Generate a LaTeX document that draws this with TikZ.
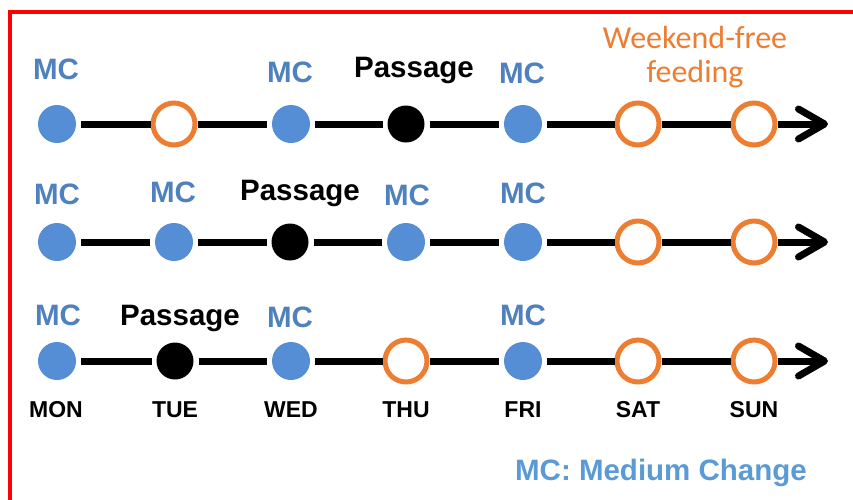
\documentclass[tikz,border=0pt]{standalone}
\usepackage{fontspec}
\setmainfont{Liberation Sans}
\newfontfamily\carlitofont{Carlito}
\usetikzlibrary{arrows.meta}
\definecolor{mcblue}{HTML}{4F81BD}
\definecolor{dotblue}{HTML}{558ED5}
\definecolor{legblue}{HTML}{5B9BD5}
\definecolor{wkorange}{HTML}{ED7D31}
\definecolor{frame}{HTML}{FF0000}
\begin{document}
\begin{tikzpicture}[x=1pt,y=-1pt,
  bluedot/.style={circle,fill=dotblue,minimum size=38pt,inner sep=0pt,outer sep=5pt},
  blackdot/.style={circle,fill=black,minimum size=37pt,inner sep=0pt,outer sep=5pt},
  freedot/.style={circle,draw=wkorange,line width=5pt,fill=white,minimum size=42pt,inner sep=0pt,outer sep=2.5pt},
  tline/.style={line width=7pt},
  tarrow/.style={line width=7pt,-{Straight Barb[length=26pt,width=30pt,round]}},
  mc/.style={text=mcblue,font=\bfseries\fontsize{29.5}{31}\selectfont,anchor=base,inner sep=0pt},
  pass/.style={text=black,font=\bfseries\fontsize{29.5}{31}\selectfont,anchor=base,inner sep=0pt},
  day/.style={text=black,font=\bfseries\fontsize{23}{25}\selectfont,anchor=base,inner sep=0pt},
  wk/.style={text=wkorange,font=\carlitofont\fontsize{32}{34}\selectfont,anchor=base,inner sep=0pt},
  leg/.style={text=legblue,font=\bfseries\fontsize{29.5}{31}\selectfont,anchor=base,inner sep=0pt}
]
\useasboundingbox (0,0) rectangle (853,499);
\clip (0,0) rectangle (853,499);
\fill[white] (0,0) rectangle (853,499);
\draw[frame,line width=4pt] (9.5,11.5) rectangle (900,560);

% Row 1
\node[bluedot]  (a1) at (57,124) {};
\node[freedot]  (a2) at (174,124) {};
\node[bluedot]  (a3) at (291,124) {};
\node[blackdot] (a4) at (406,124) {};
\node[bluedot]  (a5) at (523,124) {};
\node[freedot]  (a6) at (638,124) {};
\node[freedot]  (a7) at (754,124) {};
\coordinate (ae) at (828,124);
\draw[tline] (a1) -- (a2);
\draw[tline] (a2) -- (a3);
\draw[tline] (a3) -- (a4);
\draw[tline] (a4) -- (a5);
\draw[tline] (a5) -- (a6);
\draw[tline] (a6) -- (a7);
\draw[tarrow] (a7) -- (ae);
\node[mc] (a1l) at (56,79) {MC};
\node[mc] (a3l) at (290,82) {MC};
\node[pass] (a4l) at (414,77) {Passage};
\node[mc] (a5l) at (522,83) {MC};
\node[wk] (wk1) at (695,48) {Weekend-free};
\node[wk] (wk2) at (695,82) {feeding};

% Row 2
\node[bluedot]  (b1) at (57,242) {};
\node[bluedot]  (b2) at (174,242) {};
\node[blackdot] (b3) at (290,242) {};
\node[bluedot]  (b4) at (406,242) {};
\node[bluedot]  (b5) at (523,242) {};
\node[freedot]  (b6) at (638,242) {};
\node[freedot]  (b7) at (754,242) {};
\coordinate (be) at (828,242);
\draw[tline] (b1) -- (b2);
\draw[tline] (b2) -- (b3);
\draw[tline] (b3) -- (b4);
\draw[tline] (b4) -- (b5);
\draw[tline] (b5) -- (b6);
\draw[tline] (b6) -- (b7);
\draw[tarrow] (b7) -- (be);
\node[mc] (b1l) at (57,204) {MC};
\node[mc] (b2l) at (173,202) {MC};
\node[pass] (b3l) at (300,200) {Passage};
\node[mc] (b4l) at (407,205) {MC};
\node[mc] (b5l) at (523,203) {MC};

% Row 3
\node[bluedot]  (c1) at (57,361) {};
\node[blackdot] (c2) at (175,361) {};
\node[bluedot]  (c3) at (291,361) {};
\node[freedot]  (c4) at (406,361) {};
\node[bluedot]  (c5) at (523,361) {};
\node[freedot]  (c6) at (638,361) {};
\node[freedot]  (c7) at (754,361) {};
\coordinate (ce) at (828,361);
\draw[tline] (c1) -- (c2);
\draw[tline] (c2) -- (c3);
\draw[tline] (c3) -- (c4);
\draw[tline] (c4) -- (c5);
\draw[tline] (c5) -- (c6);
\draw[tline] (c6) -- (c7);
\draw[tarrow] (c7) -- (ce);
\node[mc] (c1l) at (58,325) {MC};
\node[pass] (c2l) at (180,325) {Passage};
\node[mc] (c3l) at (290,327) {MC};
\node[mc] (c5l) at (523,325) {MC};

% Day labels
\node[day] (mon) at (56,417) {MON};
\node[day] (tue) at (175,417) {TUE};
\node[day] (wed) at (291,417) {WED};
\node[day] (thu) at (406,417) {THU};
\node[day] (fri) at (523,417) {FRI};
\node[day] (sat) at (638,417) {SAT};
\node[day] (sun) at (754,417) {SUN};

% Legend
\node[leg] (legend) at (661,480) {MC: Medium Change};
\end{tikzpicture}
\end{document}
